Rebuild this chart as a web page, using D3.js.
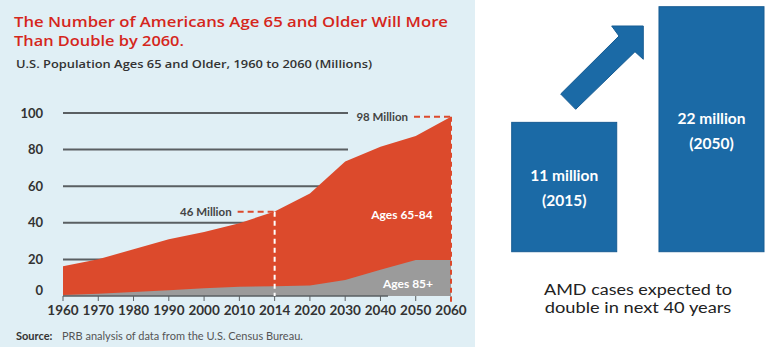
<!DOCTYPE html>
<html>
<head>
<meta charset="utf-8">
<script src="https://cdn.jsdelivr.net/npm/d3@7/dist/d3.min.js"></script>
<style>
  html, body { margin: 0; padding: 0; background: #fff; }
  svg { display: block; font-family: Lato, "Open Sans", sans-serif; }
</style>
</head>
<body>
<svg id="chart" width="766" height="352"></svg>
<script>
// ---- Data ----
const years = ["1960","1970","1980","1990","2000","2010","2014","2020","2030","2040","2050","2060"];
const ages65to84 = [15.6, 18.9, 23.3, 27.9, 30.8, 34.8, 40.9, 50.2, 64.7, 67.2, 67.8, 78.3];
const ages85plus = [0.6, 1.2, 2.2, 3.1, 4.2, 5.0, 5.3, 5.8, 8.8, 14.3, 19.7, 19.7];
const yTicks = [0, 20, 40, 60, 80, 100];
const annotations = [
  { year: "2014", value: 46, label: "46 Million", lineColor: "#fff" },
  { year: "2060", value: 98, label: "98 Million", lineColor: "#dc4a2c" }
];
const amdYears = ["2015", "2050"];
const amdValues = [11, 22];
const amdLabels = ["11 million", "22 million"];

const svg = d3.select("#chart");

// ---- Left panel ----
svg.append("rect").attr("x", 0).attr("y", 0).attr("width", 475).attr("height", 347).attr("fill", "#e0eff5");

const titleFont = '"Open Sans", Lato, sans-serif';
svg.append("text").attr("x", 14).attr("y", 26.5)
  .attr("font-family", titleFont)
  .attr("fill", "#d5261c").attr("font-size", 14.3).attr("font-weight", 600)
  .attr("textLength", 434).attr("lengthAdjust", "spacingAndGlyphs")
  .text("The Number of Americans Age 65 and Older Will More");
svg.append("text").attr("x", 14).attr("y", 46)
  .attr("font-family", titleFont)
  .attr("fill", "#d5261c").attr("font-size", 14.3).attr("font-weight", 600)
  .attr("textLength", 170).attr("lengthAdjust", "spacingAndGlyphs")
  .text("Than Double by 2060.");
svg.append("text").attr("x", 16).attr("y", 68)
  .attr("font-family", titleFont)
  .attr("fill", "#333").attr("font-size", 11.5).attr("font-weight", 600)
  .attr("textLength", 356).attr("lengthAdjust", "spacingAndGlyphs")
  .text("U.S. Population Ages 65 and Older, 1960 to 2060 (Millions)");

const x = d3.scalePoint().domain(years).range([63, 451]);
const y = d3.scaleLinear().domain([0, 100]).range([296, 113]);

// gridlines
svg.append("g").selectAll("line").data(yTicks.filter(d => d > 0)).join("line")
  .attr("x1", x("1960")).attr("x2", 348)
  .attr("y1", d => y(d)).attr("y2", d => y(d))
  .attr("stroke", "#5a5f62").attr("stroke-width", 2);

// y labels
svg.append("g").selectAll("text").data(yTicks).join("text")
  .attr("x", 43).attr("y", d => y(d) + (d === 0 ? -1 : 4.5))
  .attr("text-anchor", "end").attr("fill", "#333")
  .attr("font-size", 13).attr("font-weight", 700)
  .text(d => d);

// stacked areas
const rows = years.map((yr, i) => ({ year: yr, a85: ages85plus[i], a65: ages65to84[i] }));
const series = d3.stack().keys(["a85", "a65"])(rows);
const areaTop = d3.area().x(d => x(d.data.year)).y0(y(0)).y1(d => y(d[1]));
// red: total (65+), grey: 85+
svg.append("path").datum(series[1]).attr("fill", "#dc4a2c").attr("d", areaTop);
svg.append("path").datum(series[0]).attr("fill", "#9b9b9b").attr("d", areaTop);

// x axis line and ticks
svg.append("line").attr("x1", x("1960")).attr("x2", 388).attr("y1", y(0)).attr("y2", y(0))
  .attr("stroke", "#5a5f62").attr("stroke-width", 1.5);
svg.append("g").selectAll("line").data(years).join("line")
  .attr("x1", d => x(d)).attr("x2", d => x(d))
  .attr("y1", y(0)).attr("y2", y(0) + 5)
  .attr("stroke", "#5a5f62").attr("stroke-width", 1);
svg.append("g").selectAll("text").data(years).join("text")
  .attr("x", d => x(d)).attr("y", 315)
  .attr("text-anchor", "middle").attr("fill", "#333")
  .attr("font-size", 13.5).attr("font-weight", 700)
  .text(d => d);

// annotations
annotations.forEach(a => {
  const ax = x(a.year), ay = y(a.value);
  svg.append("line").attr("x1", ax).attr("x2", ax).attr("y1", ay)
    .attr("y2", a.year === "2060" ? y(0) + 7 : y(0))
    .attr("stroke", a.lineColor).attr("stroke-width", 2).attr("stroke-dasharray", "5,4");
  svg.append("line").attr("x1", ax - 37).attr("x2", ax).attr("y1", ay).attr("y2", ay)
    .attr("stroke", "#dc4a2c").attr("stroke-width", 2).attr("stroke-dasharray", "6,4");
  svg.append("text").attr("x", ax - 43).attr("y", ay + 4)
    .attr("text-anchor", "end").attr("fill", "#444")
    .attr("font-size", 11.5).attr("font-weight", 700)
    .text(a.label);
});

// series labels
svg.append("text").attr("x", 402).attr("y", 219).attr("text-anchor", "middle")
  .attr("fill", "#fff").attr("font-size", 12).attr("font-weight", 700).text("Ages 65-84");
svg.append("text").attr("x", 408).attr("y", 287.5).attr("text-anchor", "middle")
  .attr("fill", "#fff").attr("font-size", 12).attr("font-weight", 700).text("Ages 85+");

// source
const src = svg.append("text").attr("x", 16).attr("y", 340).attr("font-size", 11).attr("fill", "#555");
src.append("tspan").attr("font-weight", 700).attr("fill", "#333").text("Source:");
src.append("tspan").attr("x", 62).text("PRB analysis of data from the U.S. Census Bureau.");

// ---- Right panel ----
const bx = d3.scaleBand().domain(amdYears).range([511.7, 764]).paddingInner(0.287).paddingOuter(0);
const by = d3.scaleLinear().domain([-1.3, 22]).range([251.7, 6.7]);

svg.append("g").selectAll("rect").data(amdValues).join("rect")
  .attr("x", (d, i) => bx(amdYears[i]))
  .attr("y", d => by(d))
  .attr("width", bx.bandwidth())
  .attr("height", d => by(-1.3) - by(d))
  .attr("fill", "#1b6aa6").attr("stroke", "#175c93").attr("stroke-width", 1);

amdValues.forEach((v, i) => {
  const cx = bx(amdYears[i]) + bx.bandwidth() / 2;
  const top = by(v);
  const off = i === 0 ? 59 : 117.5;
  svg.append("text").attr("x", cx).attr("y", top + off)
    .attr("text-anchor", "middle").attr("fill", "#fff")
    .attr("font-size", 15.5).attr("font-weight", 700).text(amdLabels[i]);
  svg.append("text").attr("x", cx).attr("y", top + off + 25)
    .attr("text-anchor", "middle").attr("fill", "#fff")
    .attr("font-size", 15.5).attr("font-weight", 700).text("(" + amdYears[i] + ")");
});

// arrow between bars (anchored to bar geometry)
const ax0 = bx("2050") - 15.7, ay0 = by(22) + 19.3; // head corner
const arrowPts = [
  [ax0 - 82.6, ay0 + 68], [ax0 - 24.3, ay0 + 10], [ax0 - 31.6, ay0],
  [ax0, ay0], [ax0, ay0 + 33.3], [ax0 - 8.3, ay0 + 25.7], [ax0 - 67.6, ay0 + 83.3]
];
svg.append("path").attr("d", d3.line()(arrowPts) + "Z")
  .attr("fill", "#1b6aa6").attr("stroke", "#175c93").attr("stroke-width", 1);

// caption
svg.append("text").attr("x", 638).attr("y", 295).attr("text-anchor", "middle")
  .attr("fill", "#222").attr("font-size", 14.8)
  .attr("textLength", 188).attr("lengthAdjust", "spacingAndGlyphs")
  .text("AMD cases expected to");
svg.append("text").attr("x", 638).attr("y", 313).attr("text-anchor", "middle")
  .attr("fill", "#222").attr("font-size", 14.8)
  .attr("textLength", 186.5).attr("lengthAdjust", "spacingAndGlyphs")
  .text("double in next 40 years");
</script>
</body>
</html>
